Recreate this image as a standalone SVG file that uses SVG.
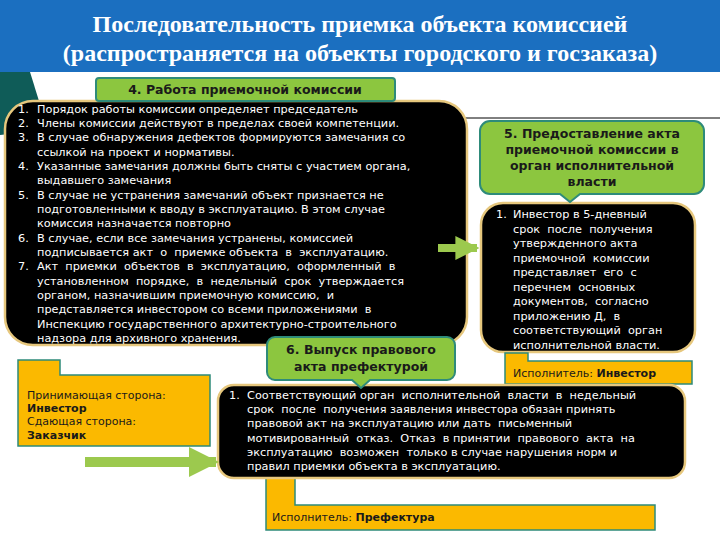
<svg xmlns="http://www.w3.org/2000/svg" width="720" height="540" viewBox="0 0 720 540">
<style>
.t{font-family:"DejaVu Sans",Verdana,sans-serif;font-size:11.3px;fill:#fff}
.h{font-family:"DejaVu Sans",Verdana,sans-serif;font-size:12.5px;font-weight:bold;fill:#1a1a1a;text-anchor:middle}
.y{font-family:"DejaVu Sans",Verdana,sans-serif;font-size:11px;fill:#1a1a1a}
.blk{fill:#000;stroke:#e6c77d;stroke-width:2.5}
.grn{fill:#8cc63f;stroke:#2e8b7a;stroke-width:2}
.yel{fill:#fbb900;stroke:#2e8b7a;stroke-width:1.5}
.ttl{font-family:"Liberation Serif",serif;font-size:24px;font-weight:bold;fill:#fff;text-anchor:middle}
</style>
<defs>
<marker id="ah" viewBox="0 0 10 10" refX="9" refY="5" markerWidth="3" markerHeight="3" orient="auto"><path d="M0,0L10,5L0,10z" fill="#9cc94e"/></marker>
</defs>
<rect width="720" height="540" fill="#fff"/>
<rect width="720" height="72" fill="#1b6fc0"/>
<text class="ttl" x="360" y="32">Последовательность приемка объекта комиссией</text>
<text class="ttl" x="360" y="61">(распространяется на объекты городского и госзаказа)</text>
<polygon points="0,72 30,72 48,130 0,135" fill="#0f5c58"/>
<line x1="462" y1="118" x2="720" y2="118" stroke="#000" stroke-width="1"/>

<g id="node4">
<rect class="blk" x="5" y="101" width="462" height="244" rx="28"/>
<rect class="grn" x="96" y="78" width="299" height="23" rx="3"/>
<text class="h" x="245" y="94">4. Работа приемочной комиссии</text>
<text class="t" xml:space="preserve"><tspan x="18" y="113">1.</tspan><tspan x="37">Порядок работы комиссии определяет председатель</tspan><tspan x="18" y="127">2.</tspan><tspan x="37">Члены комиссии действуют в пределах своей компетенции.</tspan><tspan x="18" y="141">3.</tspan><tspan x="37">В случае обнаружения дефектов формируются замечания со</tspan><tspan x="37" y="156">ссылкой на проект и нормативы.</tspan><tspan x="18" y="170">4.</tspan><tspan x="37">Указанные замечания должны быть сняты с участием органа,</tspan><tspan x="37" y="184">выдавшего замечания</tspan><tspan x="18" y="199">5.</tspan><tspan x="37">В случае не устранения замечаний объект признается не</tspan><tspan x="37" y="213">подготовленными к вводу в эксплуатацию. В этом случае</tspan><tspan x="37" y="227">комиссия назначается повторно</tspan><tspan x="18" y="242">6.</tspan><tspan x="37">В случае, если все замечания устранены, комиссией</tspan><tspan x="37" y="256">подписывается акт  о  приемке объекта  в  эксплуатацию.</tspan><tspan x="18" y="270">7.</tspan><tspan x="37">Акт  приемки  объектов  в  эксплуатацию,  оформленный  в</tspan><tspan x="37" y="285">установленном  порядке,  в  недельный  срок  утверждается</tspan><tspan x="37" y="299">органом, назначившим приемочную комиссию,  и</tspan><tspan x="37" y="313">представляется инвестором со всеми приложениями  в</tspan><tspan x="37" y="328">Инспекцию государственного архитектурно-строительного</tspan><tspan x="37" y="342">надзора для архивного хранения.</tspan></text>
</g>

<g id="node5">
<rect class="blk" x="481" y="203" width="214" height="149" rx="22"/>
<path class="grn" d="M490,121H694a10,10 0 0 1 10,10V184a10,10 0 0 1 -10,10H580L570,202L560,194H490a10,10 0 0 1 -10,-10V131a10,10 0 0 1 10,-10z"/>
<text class="h"><tspan x="592" y="138">5. Предоставление акта</tspan><tspan x="592" y="154">приемочной комиссии в</tspan><tspan x="592" y="170">орган исполнительной</tspan><tspan x="592" y="186">власти</tspan></text>
<text class="t" xml:space="preserve"><tspan x="496" y="218">1.</tspan><tspan x="513">Инвестор в 5-дневный</tspan><tspan x="513" y="233">срок  после  получения</tspan><tspan x="513" y="247">утвержденного акта</tspan><tspan x="513" y="262">приемочной  комиссии</tspan><tspan x="513" y="276">представляет  его  с</tspan><tspan x="513" y="291">перечнем  основных</tspan><tspan x="513" y="305">документов,  согласно</tspan><tspan x="513" y="320">приложению Д,  в</tspan><tspan x="513" y="334">соответствующий  орган</tspan><tspan x="513" y="349">исполнительной власти.</tspan></text>
<polygon class="yel" points="505,353 528,353 528,361 692,361 692,384 505,384"/>
<text class="y" x="513" y="377">Исполнитель: <tspan font-weight="bold">Инвестор</tspan></text>
</g>

<g id="parties">
<polygon class="yel" points="18,360 60,360 60,375 210,375 210,446 18,446"/>
<text class="y"><tspan x="27" y="399">Принимающая сторона:</tspan><tspan x="27" y="412" font-weight="bold">Инвестор</tspan><tspan x="27" y="425">Сдающая сторона:</tspan><tspan x="27" y="439" font-weight="bold">Заказчик</tspan></text>
</g>

<g id="node6">
<polygon class="yel" points="266,470 295,470 295,505 655,505 655,530 266,530"/>
<rect class="blk" x="218" y="385" width="467" height="93" rx="16"/>
<path class="grn" d="M275,337H447a8,8 0 0 1 8,8V372a8,8 0 0 1 -8,8H370L361,388L352,380H275a8,8 0 0 1 -8,-8V345a8,8 0 0 1 8,-8z"/>
<text class="h"><tspan x="361" y="354">6. Выпуск правового</tspan><tspan x="361" y="371">акта префектурой</tspan></text>
<text class="t" xml:space="preserve"><tspan x="229" y="399">1.</tspan><tspan x="247">Соответствующий орган  исполнительной  власти  в  недельный</tspan><tspan x="247" y="413">срок  после  получения заявления инвестора обязан принять</tspan><tspan x="247" y="427">правовой акт на эксплуатацию или дать  письменный</tspan><tspan x="247" y="442">мотивированный  отказ.  Отказ  в принятии  правового  акта  на</tspan><tspan x="247" y="456">эксплуатацию  возможен  только в случае нарушения норм и</tspan><tspan x="247" y="470">правил приемки объекта в эксплуатацию.</tspan></text>
<text class="y" x="272" y="521">Исполнитель: <tspan font-weight="bold">Префектура</tspan></text>
</g>

<g id="connectors">
<line x1="438" y1="248" x2="477" y2="248" stroke="#9cc94e" stroke-width="8" marker-end="url(#ah)"/>
<line x1="85" y1="462" x2="216" y2="462" stroke="#9cc94e" stroke-width="10" marker-end="url(#ah)"/>
</g>
</svg>
